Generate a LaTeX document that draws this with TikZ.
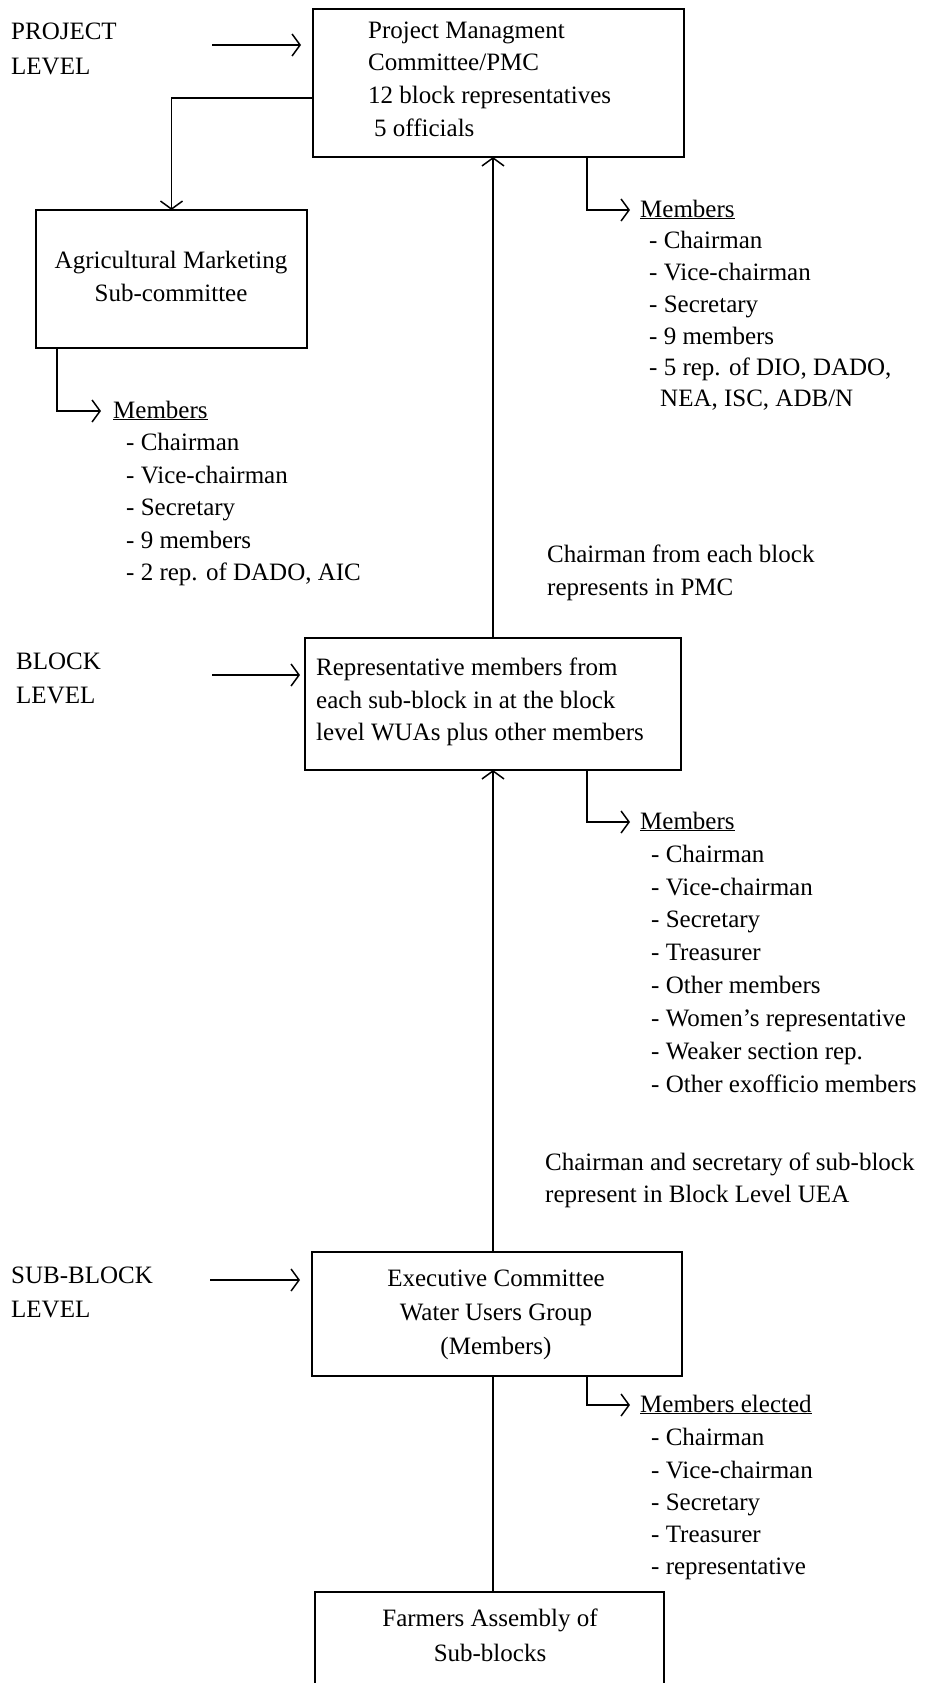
\documentclass[tikz,border=0pt]{standalone}
\usepackage{fontspec}
\setmainfont{Liberation Serif}
\usetikzlibrary{arrows.meta}
\begin{document}
\begin{tikzpicture}[x=1pt,y=-1pt,
  box/.style={draw, line width=1.8pt, inner sep=0pt, outer sep=0pt},
  lbl/.style={anchor=base west, inner sep=0pt, font=\fontsize{25}{33}\selectfont},
  ctr/.style={anchor=base, inner sep=0pt, font=\fontsize{25}{33}\selectfont},
  mainline/.style={line width=2.6pt},
  branch/.style={line width=1.6pt},
  lvl/.style={line width=1.1pt},
  >={Straight Barb[length=8pt,width=22pt,line width=1.5pt]}
]
\useasboundingbox (0,0) rectangle (924,1683);
\fill[white] (0,0) rectangle (924,1683);

% boxes
\node[box, minimum width=371pt, minimum height=148pt] (pmc) at (498.5,83) {};
\node[box, minimum width=271pt, minimum height=138pt] (agri) at (171.5,279) {};
\node[box, minimum width=376pt, minimum height=132pt] (block) at (493,704) {};
\node[box, minimum width=370pt, minimum height=124pt] (exec) at (497,1314) {};
\node[box, minimum width=349pt, minimum height=118pt] (farm) at (489.5,1651) {};

% box texts (y = baseline)
\node[lbl] (pmc1) at (368,39) {Project Managment};
\node[lbl] (pmc2) at (368,71) {Committee/PMC};
\node[lbl] (pmc3) at (368,104) {12 block representatives};
\node[lbl] (pmc4) at (374,136) {5 officials};

\node[ctr] (agri1) at (171,268) {Agricultural Marketing};
\node[ctr] (agri2) at (171,301) {Sub-committee};

\node[lbl] (blk1) at (316,675) {Representative members from};
\node[lbl] (blk2) at (316,708) {each sub-block in at the block};
\node[lbl] (blk3) at (316,740) {level WUAs plus other members};

\node[ctr] (ex1) at (496,1286) {Executive Committee};
\node[ctr] (ex2) at (496,1320) {Water Users Group};
\node[ctr] (ex3) at (496,1354) {(Members)};

\node[ctr] (fa1) at (490,1626) {Farmers Assembly of};
\node[ctr] (fa2) at (490,1661) {Sub-blocks};

% level labels
\node[lbl] (pl1) at (11,40) {PROJECT};
\node[lbl] (pl2) at (11,75) {LEVEL};
\node[lbl] (bl1) at (16,669) {BLOCK};
\node[lbl] (bl2) at (16,703) {LEVEL};
\node[lbl] (sl1) at (11,1283) {SUB-BLOCK};
\node[lbl] (sl2) at (11,1317) {LEVEL};

\coordinate (plA) at (212,45);
\coordinate (blA) at (212,675);
\coordinate (slA) at (210,1280);
\draw[lvl,->] (plA) -- ([xshift=-12pt]plA -| pmc.west);
\draw[lvl,->] (blA) -- ([xshift=-5pt]blA -| block.west);
\draw[lvl,->] (slA) -- ([xshift=-12pt]slA -| exec.west);

% main vertical
\coordinate (mx) at (493,0);
\draw[mainline,->] (block.north -| mx) -- (pmc.south -| mx);
\draw[mainline,->] (exec.north -| mx) -- (block.south -| mx);
\draw[mainline] (farm.north -| mx) -- (exec.south -| mx);

% PMC -> Agri
\draw[branch,->] ([yshift=-15pt]pmc.west) -| (agri.north);

% member lists
\coordinate (bx) at (587,0);
\coordinate (ax) at (57,0);

% PMC members
\node[lbl] (pm0) at (640,217) {\underline{Members}};
\node[lbl] (pm1) at (649,248) {- Chairman};
\node[lbl] (pm2) at (649,280) {- Vice-chairman};
\node[lbl] (pm3) at (649,312) {- Secretary};
\node[lbl] (pm4) at (649,344) {- 9 members};
\node[lbl] (pm5) at (649,375) {- 5 rep. of DIO, DADO,};
\node[lbl] (pm6) at (660,406) {NEA, ISC, ADB/N};
\draw[branch,->] (pmc.south -| bx) |- ([xshift=-10pt,yshift=7pt]pm0.base west);

% Agri members
\node[lbl] (am0) at (113,418) {\underline{Members}};
\node[lbl] (am1) at (126,450) {- Chairman};
\node[lbl] (am2) at (126,483) {- Vice-chairman};
\node[lbl] (am3) at (126,515) {- Secretary};
\node[lbl] (am4) at (126,548) {- 9 members};
\node[lbl] (am5) at (126,580) {- 2 rep. of DADO, AIC};
\draw[branch,->] (agri.south -| ax) |- ([xshift=-12pt,yshift=7pt]am0.base west);

% annotation 1
\node[lbl] (n1a) at (547,562) {Chairman from each block};
\node[lbl] (n1b) at (547,595) {represents in PMC};

% Block members
\node[lbl] (bm0) at (640,829) {\underline{Members}};
\node[lbl] (bm1) at (651,862) {- Chairman};
\node[lbl] (bm2) at (651,895) {- Vice-chairman};
\node[lbl] (bm3) at (651,927) {- Secretary};
\node[lbl] (bm4) at (651,960) {- Treasurer};
\node[lbl] (bm5) at (651,993) {- Other members};
\node[lbl] (bm6) at (651,1026) {- Women's representative};
\node[lbl] (bm7) at (651,1059) {- Weaker section rep.};
\node[lbl] (bm8) at (651,1092) {- Other exofficio members};
\draw[branch,->] (block.south -| bx) |- ([xshift=-10pt,yshift=7pt]bm0.base west);

% annotation 2
\node[lbl] (n2a) at (545,1170) {Chairman and secretary of sub-block};
\node[lbl] (n2b) at (545,1202) {represent in Block Level UEA};

% Exec members
\node[lbl] (em0) at (640,1412) {\underline{Members elected}};
\node[lbl] (em1) at (651,1445) {- Chairman};
\node[lbl] (em2) at (651,1478) {- Vice-chairman};
\node[lbl] (em3) at (651,1510) {- Secretary};
\node[lbl] (em4) at (651,1542) {- Treasurer};
\node[lbl] (em5) at (651,1574) {- representative};
\draw[branch,->] (exec.south -| bx) |- ([xshift=-10pt,yshift=7pt]em0.base west);
\end{tikzpicture}
\end{document}
